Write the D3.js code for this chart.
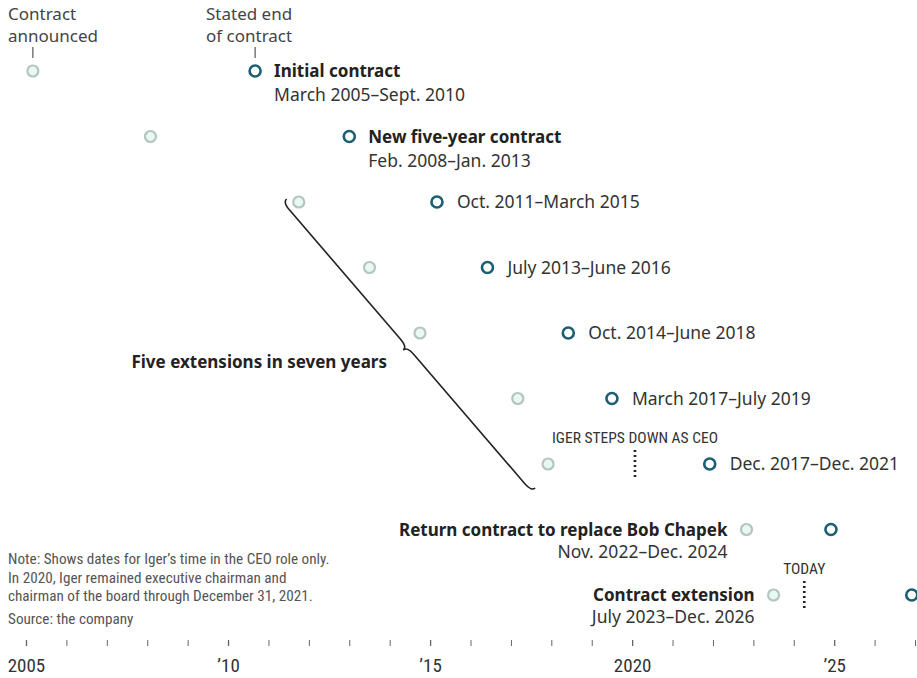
<!DOCTYPE html>
<html>
<head>
<meta charset="utf-8">
<script src="https://cdn.jsdelivr.net/npm/d3@7"></script>
<style>
  body { margin: 0; background: #fff; }
  svg text { font-family: "Noto Sans", "Open Sans", sans-serif; fill: #333; }
  svg text.narrow { font-family: "Liberation Sans Narrow", "Roboto Condensed", "Noto Sans", sans-serif; }
</style>
</head>
<body>
<div id="chart"></div>
<script>
// contract start (announced) and stated end, as decimal years
let contractStart = [2005.17, 2008.08, 2011.75, 2013.5, 2014.75, 2017.17, 2017.92, 2022.83, 2023.5];
let contractEnd = [2010.67, 2013.0, 2015.17, 2016.42, 2018.42, 2019.5, 2021.92, 2024.92, 2026.92];
let contractTitle = ['Initial contract', 'New five-year contract', '', '', '', '', '', 'Return contract to replace Bob Chapek', 'Contract extension'];
let contractRange = ['March 2005–Sept. 2010', 'Feb. 2008–Jan. 2013', 'Oct. 2011–March 2015', 'July 2013–June 2016',
    'Oct. 2014–June 2018', 'March 2017–July 2019', 'Dec. 2017–Dec. 2021', 'Nov. 2022–Dec. 2024', 'July 2023–Dec. 2026'];
let tickYears = d3.range(2005, 2028);
let tickLabels = {2005: '2005', 2010: '’10', 2015: '’15', 2020: '2020', 2025: '’25'};
let events = [
    {label: 'IGER STEPS DOWN AS CEO', year: 2020.07, row: 6},
    {label: 'TODAY', year: 2024.26, row: 8}
];
let notes = ['Note: Shows dates for Iger’s time in the CEO role only.',
    'In 2020, Iger remained executive chairman and',
    'chairman of the board through December 31, 2021.'];

let width = 917, height = 678;

let svg = d3.select('#chart').append('svg')
    .attr('width', width)
    .attr('height', height);

let xScale = d3.scaleLinear()
    .domain([2005, 2027])
    .range([26, 915]);

let yScale = d3.scaleLinear()
    .domain([0, 8])
    .range([71, 595]);

let rows = contractStart.map((s, i) => ({
    start: s, end: contractEnd[i], title: contractTitle[i], range: contractRange[i], row: i
}));

// column headers
let headers = [
    {lines: ['Contract', 'announced'], x: 8, year: contractStart[0]},
    {lines: ['Stated end', 'of contract'], x: 206, year: contractEnd[0]}
];
headers.forEach(h => {
    let t = svg.append('text')
        .attr('x', h.x)
        .attr('y', 20)
        .style('font-size', '17px')
        .style('fill', '#444');
    h.lines.forEach((l, i) => t.append('tspan').attr('x', h.x).attr('dy', i ? 22 : 0).text(l));
    svg.append('line')
        .attr('x1', xScale(h.year)).attr('x2', xScale(h.year))
        .attr('y1', 47).attr('y2', 58)
        .attr('stroke', '#555').attr('stroke-width', 1.2);
});

// brace for the five extensions
function bracePath(x1, y1, x2, y2, w) {
    let dx = x2 - x1, dy = y2 - y1, len = Math.hypot(dx, dy);
    let ux = dx / len, uy = dy / len;
    let vx = -uy, vy = ux; // perpendicular, toward lower left
    let p = (a, b) => [x1 + ux * a + vx * b, y1 + uy * a + vy * b];
    let h = len / 2, q = 10;
    let pts = [
        ['M', p(0, 0)],
        ['Q', p(0, w / 2), p(q, w / 2)],
        ['L', p(h - q, w / 2)],
        ['Q', p(h, w / 2), p(h, w)],
        ['Q', p(h, w / 2), p(h + q, w / 2)],
        ['L', p(len - q, w / 2)],
        ['Q', p(len, w / 2), p(len, 0)]
    ];
    return pts.map(s => s[0] + s.slice(1).map(c => c.join(',')).join(' ')).join(' ');
}
svg.append('path')
    .attr('d', bracePath(xScale(2011.45), yScale(2) - 3, xScale(2017.6), yScale(6) + 24, 10))
    .attr('fill', 'none')
    .attr('stroke', '#222')
    .attr('stroke-width', 1.6);

svg.append('text')
    .attr('x', 387)
    .attr('y', yScale(4.5) + 2)
    .attr('text-anchor', 'end')
    .style('font-size', '17px')
    .style('font-weight', 'bold')
    .style('fill', '#222')
    .text('Five extensions in seven years');

// event markers
let ev = svg.selectAll('.event')
    .data(events)
    .join('g')
    .attr('class', 'event');
ev.append('line')
    .attr('x1', d => xScale(d.year)).attr('x2', d => xScale(d.year))
    .attr('y1', d => yScale(d.row) - 14).attr('y2', d => yScale(d.row) + 16)
    .attr('stroke', '#222')
    .attr('stroke-width', 2.6)
    .attr('stroke-dasharray', '2,3');
ev.append('text')
    .attr('class', 'narrow')
    .attr('x', d => xScale(d.year))
    .attr('y', d => yScale(d.row) - 21)
    .attr('text-anchor', 'middle')
    .style('font-size', '15.5px')
    .style('fill', '#333')
    .text(d => d.label);

// contract rows
let row_g = svg.selectAll('.contract')
    .data(rows)
    .join('g')
    .attr('class', 'contract');

row_g.append('circle')
    .attr('cx', d => xScale(d.start))
    .attr('cy', d => yScale(d.row))
    .attr('r', 5.5)
    .attr('fill', '#eaf8f3')
    .attr('stroke', '#b3c6c0')
    .attr('stroke-width', 2.2);

row_g.append('circle')
    .attr('cx', d => xScale(d.end))
    .attr('cy', d => yScale(d.row))
    .attr('r', 5.5)
    .attr('fill', '#fff')
    .attr('stroke', '#1c5e72')
    .attr('stroke-width', 2.6);

row_g.each(function (d) {
    let g = d3.select(this), y = yScale(d.row);
    if (d.row >= 7) {
        let xr = xScale(d.start) - 19;
        g.append('text').attr('x', xr).attr('y', y + 6).attr('text-anchor', 'end')
            .style('font-size', '17px').style('font-weight', 'bold').style('fill', '#222')
            .text(d.title);
        g.append('text').attr('x', xr).attr('y', y + 28).attr('text-anchor', 'end')
            .style('font-size', '17.5px').text(d.range);
    } else if (d.title) {
        let xl = xScale(d.end) + 19;
        g.append('text').attr('x', xl).attr('y', y + 6)
            .style('font-size', '17px').style('font-weight', 'bold').style('fill', '#222')
            .text(d.title);
        g.append('text').attr('x', xl).attr('y', y + 30)
            .style('font-size', '17.5px').text(d.range);
    } else {
        g.append('text').attr('x', xScale(d.end) + 20).attr('y', y + 6)
            .style('font-size', '17.5px').text(d.range);
    }
});

// note and source
let note = svg.append('text')
    .attr('class', 'narrow')
    .attr('x', 8)
    .attr('y', 564)
    .style('font-size', '15.2px')
    .style('fill', '#555');
notes.forEach((l, i) => note.append('tspan').attr('x', 8).attr('dy', i ? 18.5 : 0).text(l));
svg.append('text')
    .attr('class', 'narrow')
    .attr('x', 8)
    .attr('y', 624)
    .style('font-size', '15.2px')
    .style('fill', '#555')
    .text('Source: the company');

// time axis
let xAxis = d3.axisBottom(xScale)
    .tickValues(tickYears)
    .tickSize(6)
    .tickPadding(13)
    .tickFormat(d => tickLabels[d] || '');

let axis_g = svg.append('g')
    .attr('transform', 'translate(0, 640)')
    .call(xAxis);
axis_g.select('.domain').remove();
axis_g.selectAll('.tick line')
    .attr('stroke', '#666')
    .attr('stroke-width', d => d % 5 === 0 ? 1.3 : 1);
axis_g.selectAll('.tick text')
    .attr('class', 'narrow')
    .style('font-size', '19px')
    .style('font-weight', 'normal')
    .style('fill', '#333');
</script>
</body>
</html>
